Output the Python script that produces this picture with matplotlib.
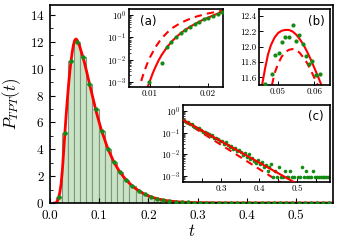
import numpy as np
import matplotlib
matplotlib.use('Agg')
import matplotlib.pyplot as plt
from matplotlib.ticker import MultipleLocator, FixedLocator, LogLocator, NullFormatter

plt.rcParams['font.family'] = 'serif'
plt.rcParams['font.serif'] = ['cmr10', 'DejaVu Serif']
plt.rcParams['mathtext.fontset'] = 'cm'
plt.rcParams['axes.formatter.use_mathtext'] = True
plt.rcParams['axes.unicode_minus'] = False

# ---- main histogram (simulation) ----
bin_t = [0.0175, 0.03, 0.0425, 0.055, 0.0675, 0.08, 0.0925, 0.105, 0.1175, 0.13,
         0.1425, 0.155, 0.1675, 0.18, 0.1925, 0.205, 0.2175, 0.23, 0.2425, 0.255,
         0.2675, 0.28, 0.2925, 0.305, 0.3175, 0.33, 0.3425, 0.355, 0.3675, 0.38,
         0.3925, 0.405, 0.4175, 0.43, 0.4425, 0.455, 0.4675, 0.48, 0.4925, 0.505,
         0.5175, 0.53, 0.5425, 0.555, 0.5675]
bin_p = [0.45, 5.25, 10.6, 12.0, 10.85, 8.9, 7.0, 5.35, 4.05, 3.03,
         2.29, 1.72, 1.25, 0.92, 0.65, 0.45, 0.33, 0.2, 0.14, 0.1,
         0.07, 0.05, 0.035, 0.025, 0.017, 0.012, 0.008, 0.006, 0.004, 0.003,
         0.002, 0.002, 0.001, 0.001, 0.001, 0.001, 0.001, 0.001, 0.001, 0.001,
         0.001, 0.001, 0.001, 0.001, 0.001]
bin_width = 0.0125

# ---- main theory curve ----
th_t = [0.009, 0.0125, 0.015, 0.0175, 0.02, 0.0225, 0.025, 0.0275, 0.03, 0.0325,
        0.035, 0.0375, 0.04, 0.0425, 0.045, 0.0475, 0.05, 0.0525, 0.055, 0.06,
        0.065, 0.0675, 0.07, 0.075, 0.08, 0.085, 0.09, 0.0925, 0.095, 0.1,
        0.105, 0.11, 0.115, 0.12, 0.13, 0.14, 0.15, 0.16, 0.17, 0.18,
        0.19, 0.2, 0.21, 0.22, 0.23, 0.24, 0.26, 0.28, 0.3, 0.35,
        0.4, 0.45, 0.5, 0.575]
th_p = [0.0, 0.02, 0.14, 0.38, 0.8, 1.4, 2.4, 3.7, 5.1, 6.4,
        7.6, 8.7, 9.7, 10.5, 11.2, 11.75, 12.1, 12.22, 12.15, 11.7,
        11.1, 10.8, 10.45, 9.7, 8.9, 8.15, 7.4, 7.0, 6.65, 6.0,
        5.35, 4.85, 4.3, 3.85, 3.03, 2.42, 1.92, 1.52, 1.18, 0.92,
        0.7, 0.53, 0.4, 0.3, 0.22, 0.16, 0.085, 0.045, 0.025, 0.008,
        0.002, 0.0006, 0.0002, 0.0]

# ---- inset (a): short times, log scale ----
a_sim_t = [0.0099, 0.0121, 0.0129, 0.0137, 0.0145, 0.0153, 0.0161, 0.0169,
           0.0177, 0.0185, 0.0193, 0.0201, 0.0209, 0.0217, 0.0225]
a_sim_logp = [-3.0, -2.15, -1.45, -1.2, -1.0, -0.82, -0.68, -0.54,
              -0.42, -0.31, -0.2, -0.12, -0.05, 0.04, 0.12]
a_th_t = [0.0095, 0.01, 0.0105, 0.011, 0.0115, 0.012, 0.013, 0.014, 0.015,
          0.016, 0.017, 0.018, 0.019, 0.02, 0.021, 0.022, 0.023]
a_th_logp = [-3.3, -2.95, -2.6, -2.3, -2.03, -1.8, -1.42, -1.12, -0.88,
             -0.68, -0.51, -0.37, -0.23, -0.12, -0.01, 0.09, 0.19]
a_th2_t = [0.0085, 0.009, 0.0095, 0.01, 0.011, 0.012, 0.013, 0.014, 0.015,
           0.016, 0.017, 0.018, 0.019, 0.02, 0.021, 0.022, 0.023]
a_th2_logp = [-2.95, -2.55, -2.2, -1.9, -1.42, -1.05, -0.78, -0.56, -0.4,
              -0.27, -0.16, -0.07, 0.0, 0.07, 0.12, 0.17, 0.22]

# ---- inset (b): around the peak ----
b_sim_t = [0.0463, 0.0484, 0.0491, 0.0502, 0.0511, 0.052, 0.053, 0.054,
           0.0549, 0.0558, 0.0568, 0.0577, 0.0586, 0.0595, 0.0606, 0.0616]
b_sim_p = [11.51, 11.65, 11.89, 11.92, 12.06, 12.13, 12.13, 12.29,
           12.08, 12.16, 12.03, 11.88, 11.78, 11.82, 11.63, 11.64]
b_th_t = [0.0456, 0.0464, 0.0472, 0.048, 0.049, 0.05, 0.051, 0.052, 0.053, 0.054,
          0.055, 0.056, 0.057, 0.058, 0.059, 0.06, 0.061, 0.062, 0.063]
b_th_p = [11.51, 11.72, 11.9, 12.02, 12.12, 12.18, 12.21, 12.22, 12.22, 12.2,
          12.16, 12.1, 12.03, 11.94, 11.84, 11.73, 11.62, 11.5, 11.37]
b_th2_t = [0.0483, 0.049, 0.05, 0.051, 0.052, 0.053, 0.054, 0.055, 0.056,
           0.057, 0.058, 0.059, 0.06, 0.061]
b_th2_p = [11.5, 11.65, 11.78, 11.87, 11.93, 11.96, 11.97, 11.96, 11.92,
           11.86, 11.79, 11.7, 11.6, 11.5]

# ---- inset (c): tail, log scale ----
c_sim_t = [0.2025, 0.2075, 0.2125, 0.2175, 0.2225, 0.2275, 0.2325, 0.2375, 0.2425, 0.2475,
           0.2525, 0.2575, 0.2625, 0.2675, 0.2725, 0.2775, 0.2825, 0.2875, 0.2925, 0.2975,
           0.3025, 0.3075, 0.3125, 0.3175, 0.3225, 0.3275, 0.3325, 0.3375, 0.3425, 0.3475,
           0.3525, 0.3575, 0.3625, 0.3675, 0.3725, 0.3775, 0.3825, 0.3875, 0.3925, 0.3975,
           0.4025, 0.4075, 0.4125, 0.4175, 0.4225, 0.4275, 0.4325, 0.4375, 0.4425, 0.4475,
           0.4525, 0.4575, 0.4625, 0.4675, 0.4725, 0.4775, 0.4825, 0.4875, 0.4925, 0.5025,
           0.5075, 0.5125, 0.5175, 0.5225, 0.5275, 0.5325, 0.5375, 0.5425, 0.5475, 0.5525,
           0.5575, 0.5625, 0.5675, 0.5725, 0.5775, 0.5825]
c_sim_logp = [-0.40, -0.50, -0.52, -0.60, -0.62, -0.70, -0.72, -0.80, -0.80, -0.86,
              -0.95, -0.96, -1.00, -1.05, -1.15, -1.13, -1.25, -1.24, -1.30, -1.40,
              -1.38, -1.50, -1.45, -1.55, -1.65, -1.60, -1.75, -1.70, -1.85, -1.80,
              -1.90, -2.05, -1.95, -2.10, -2.00, -2.20, -2.15, -2.30, -2.40, -2.25,
              -2.45, -2.35, -2.60, -2.50, -2.75, -2.60, -2.45, -3.05, -2.75, -3.05,
              -2.60, -3.05, -3.05, -2.75, -3.05, -3.05, -2.75, -3.05, -3.05, -3.05,
              -3.05, -2.60, -3.05, -2.75, -3.05, -3.05, -3.05, -2.75, -3.05, -3.05,
              -3.05, -3.05, -3.05, -3.05, -3.05, -3.05]
c_th_t = [0.2, 0.6]
c_th_logp = [-0.415, -4.335]
c_th2_t = [0.2, 0.6]
c_th2_logp = [-0.45, -4.89]

red = '#ff0000'
dotc = '#138a13'

fig = plt.figure(figsize=(3.4, 2.4), dpi=100)
ax = fig.add_axes([50/340, 37/240, 283/340, 198/240])

ax.bar(bin_t, bin_p, width=bin_width, color='#c9e4c5', edgecolor='#7f957d', linewidth=0.8, zorder=1)
ax.plot(th_t, th_p, color=red, lw=2.0, zorder=2)
ax.plot(bin_t, bin_p, 'o', color=dotc, ms=3.2, mec='none', zorder=3)
ax.set_xlim(0, 0.575)
ax.set_ylim(0, 14.75)
ax.set_xticks([0.0, 0.1, 0.2, 0.3, 0.4, 0.5])
ax.set_xticklabels(['0.0', '0.1', '0.2', '0.3', '0.4', '0.5'])
ax.set_yticks([0, 2, 4, 6, 8, 10, 12, 14])
ax.yaxis.set_minor_locator(MultipleLocator(1))
ax.tick_params(which='both', direction='in', labelsize=9.5, top=False, right=False)
ax.tick_params(axis='x', pad=5)
ax.tick_params(axis='y', pad=4)
ax.tick_params(which='major', length=3.5, width=0.8)
ax.tick_params(which='minor', length=2, width=0.6)
for s in ax.spines.values():
    s.set_linewidth(1.2)
ax.set_xlabel('$t$', fontsize=12, labelpad=1)
ax.set_ylabel('$P_{TPT}(t)$', fontsize=12, labelpad=5)


def style_inset(a):
    a.tick_params(which='both', direction='in', labelsize=6.5, top=False, right=False, pad=2)
    a.tick_params(which='major', length=3, width=0.7)
    a.tick_params(which='minor', length=1.6, width=0.5)
    for s in a.spines.values():
        s.set_linewidth(1.2)


# inset (a)
axa = fig.add_axes([129/340, (240-87)/240, 94/340, 77.7/240])
axa.set_yscale('log')
axa.plot(a_th_t, 10**np.array(a_th_logp), color=red, lw=1.5, zorder=2)
axa.plot(a_th2_t, 10**np.array(a_th2_logp), color=red, lw=1.5, ls=(0, (3.5, 2.5)), zorder=2)
axa.plot(a_sim_t, 10**np.array(a_sim_logp), 'o', color=dotc, ms=3.0, mec='none', zorder=3)
axa.set_xlim(0.0064, 0.0226)
axa.set_ylim(10**-3.22, 10**0.256)
axa.set_xticks([0.01, 0.02])
axa.set_xticklabels(['0.01', '0.02'])
axa.xaxis.set_minor_locator(FixedLocator([0.015]))
axa.yaxis.set_major_locator(FixedLocator([1e-3, 1e-2, 1e-1, 1e0]))
axa.yaxis.set_minor_locator(LogLocator(base=10, subs=np.arange(2, 10) * 1.0))
axa.yaxis.set_minor_formatter(NullFormatter())
style_inset(axa)
axa.text(0.12, 0.93, '(a)', transform=axa.transAxes, ha='left', va='top',
         fontsize=8.5, family='DejaVu Sans')

# inset (b)
axb = fig.add_axes([259/340, (240-85)/240, 71/340, 75.7/240])
axb.plot(b_th_t, b_th_p, color=red, lw=1.5, zorder=2)
axb.plot(b_th2_t, b_th2_p, color=red, lw=1.5, ls=(0, (3.5, 2.5)), zorder=2)
axb.plot(b_sim_t, b_sim_p, 'o', color=dotc, ms=3.0, mec='none', zorder=3)
axb.set_xlim(0.0447, 0.0644)
axb.set_ylim(11.5, 12.49)
axb.set_xticks([0.05, 0.06])
axb.set_xticklabels(['0.05', '0.06'])
axb.set_yticks([11.6, 11.8, 12.0, 12.2, 12.4])
axb.set_yticklabels(['11.6', '11.8', '12.0', '12.2', '12.4'])
style_inset(axb)
axb.text(0.93, 0.93, '(b)', transform=axb.transAxes, ha='right', va='top',
         fontsize=8.5, family='DejaVu Sans')

# inset (c)
axc = fig.add_axes([183/340, (240-182)/240, 147/340, 77/240])
axc.set_yscale('log')
axc.plot(c_th_t, 10**np.array(c_th_logp), color=red, lw=1.5, zorder=3)
axc.plot(c_th2_t, 10**np.array(c_th2_logp), color=red, lw=1.5, ls=(0, (3.5, 2.5)), zorder=2)
axc.plot(c_sim_t, 10**np.array(c_sim_logp), 'o', color=dotc, ms=2.6, mec='none', zorder=2)
axc.set_xlim(0.2, 0.587)
axc.set_ylim(10**-3.276, 10**0.276)
axc.set_xticks([0.3, 0.4, 0.5])
axc.set_xticklabels(['0.3', '0.4', '0.5'])
axc.xaxis.set_minor_locator(FixedLocator([0.25, 0.35, 0.45, 0.55]))
axc.yaxis.set_major_locator(FixedLocator([1e-3, 1e-2, 1e-1, 1e0]))
axc.yaxis.set_minor_locator(LogLocator(base=10, subs=np.arange(2, 10) * 1.0))
axc.yaxis.set_minor_formatter(NullFormatter())
style_inset(axc)
axc.tick_params(which='minor', axis='x', length=3, width=0.7)
axc.text(0.96, 0.93, '(c)', transform=axc.transAxes, ha='right', va='top',
         fontsize=8.5, family='DejaVu Sans')

fig.savefig('out.png', dpi=100)
